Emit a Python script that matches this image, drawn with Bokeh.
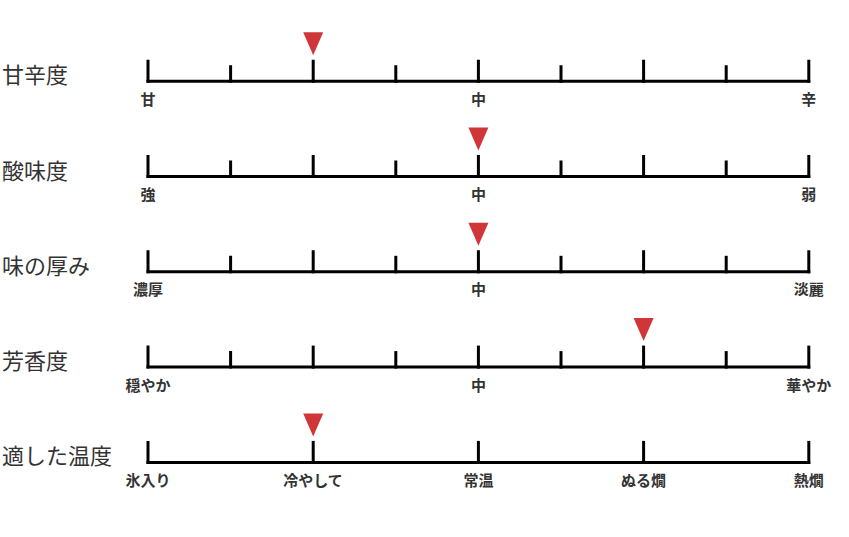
from bokeh.plotting import figure
from bokeh.models import Range1d
from bokeh.core.properties import value
from bokeh.embed import file_html
from bokeh.resources import INLINE

# ---- data ----
row_titles = ["甘辛度", "酸味度", "味の厚み", "芳香度", "適した温度"]
row_steps = [8, 8, 8, 8, 4]
row_labels = [
    ["甘", "中", "辛"],
    ["強", "中", "弱"],
    ["濃厚", "中", "淡麗"],
    ["穏やか", "中", "華やか"],
    ["氷入り", "冷やして", "常温", "ぬる燗", "熱燗"],
]
marker_step = [2, 4, 4, 6, 1]

# ---- layout ----
W, H = 841, 521
X0, X1 = 147.5, 808.3          # pixel positions of scale ends
span = (X1 - X0)
a = -X0 / span
b = (W - X0) / span
unit = (b - a) / W              # data units per pixel
ROW0, ROW_GAP = 80.7, 95.3
FONT = "Noto Sans CJK JP"
INK = "#000000"
RED = "#d03538"

p = figure(width=W, height=H, output_backend="svg", toolbar_location=None,
           x_range=Range1d(a, b), y_range=Range1d(H, 0),
           min_border=0, outline_line_color=None)
p.margin = (0, 0, 0, 0)
p.axis.visible = False
p.grid.visible = False
p.background_fill_color = "white"
p.border_fill_color = "white"

base_x0, base_x1, base_y = [], [], []
tk_x, tk_y0, tk_y1 = [], [], []
lab_x, lab_y, lab_t = [], [], []
tit_y = []
tri_xs, tri_ys = [], []

for i, (steps, labels, m) in enumerate(zip(row_steps, row_labels, marker_step)):
    ry = ROW0 + ROW_GAP * i
    base_x0.append(0.0); base_x1.append(1.0); base_y.append(ry)
    for k in range(steps + 1):
        tall = (k * 8 // steps) % 2 == 0
        tk_x.append(k / steps)
        tk_y0.append(ry + 1.5)
        tk_y1.append(ry - (21.5 if tall else 16))
    n = len(labels)
    for j, t in enumerate(labels):
        lab_x.append(j / (n - 1)); lab_y.append(ry + 17); lab_t.append(t)
    tit_y.append(ry - 8)
    mx = m / steps
    hw = 10 * unit
    tri_xs.append([mx - hw, mx + hw, mx])
    tri_ys.append([ry - 49, ry - 49, ry - 26])

p.segment(x0=base_x0, y0=base_y, x1=base_x1, y1=base_y,
          line_color=INK, line_width=3, line_cap="square")
p.segment(x0=tk_x, y0=tk_y0, x1=tk_x, y1=tk_y1,
          line_color=INK, line_width=3, line_cap="butt")
p.patches(xs=tri_xs, ys=tri_ys, fill_color=RED, line_color=None)

p.text(x=lab_x, y=lab_y, text=lab_t, text_font=value(FONT), text_font_size="15px",
       text_font_style="bold", text_color="#333333", text_align="center",
       text_baseline="middle")
p.text(x=[a + 1.5 * unit] * len(row_titles), y=tit_y, text=row_titles,
       text_font=value(FONT), text_font_size="22px", text_color="#333333",
       text_align="left", text_baseline="middle")

open("out.html", "w").write(file_html(p, INLINE))
